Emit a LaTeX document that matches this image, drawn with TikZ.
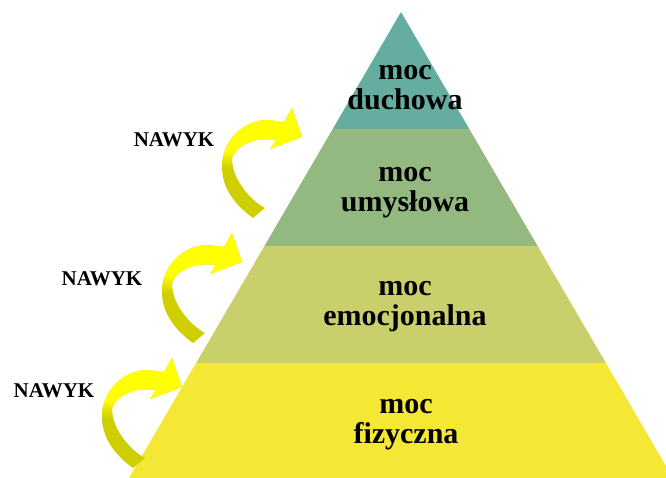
\documentclass[tikz,border=0pt]{standalone}
\usepackage{fontspec}
\setmainfont{Liberation Serif}

\definecolor{duchowacol}{RGB}{101,173,160}
\definecolor{umyslowacol}{RGB}{147,185,128}
\definecolor{emocjcol}{RGB}{201,207,106}
\definecolor{fizycol}{RGB}{245,232,52}
\definecolor{nawykbright}{RGB}{255,255,0}
\definecolor{nawykdark}{RGB}{206,206,0}

% outline of one curved arrow (the top one)
\newcommand{\nawykpath}{(253,218) .. controls (235,205) and (222,188) .. (222,167)
  .. controls (222,139) and (245,120) .. (268,120) -- (284,122) -- (292,108)
  -- (302,137) -- (270,149) -- (276,140)
  .. controls (258,137) and (238,143) .. (232,158)
  .. controls (231,176) and (248,199) .. (265,208) -- cycle}

\begin{document}
\begin{tikzpicture}[
        x=1pt, y=-1pt,
        declare function={
            % half width of the pyramid at height y
            hw(\y) = 0.5837*(\y-12);
        },
        tiertext/.style={font=\fontsize{30}{30}\selectfont\bfseries, align=center, anchor=base},
        nawyktext/.style={font=\fontsize{21}{21}\selectfont\bfseries}
    ]
        \useasboundingbox (0,0) rectangle (666,478);

        % Pyramid tiers
        \begin{scope}
            \clip (0,0) rectangle (666,478);
            \foreach \ya/\yb/\col in {12/129/duchowacol, 129/246/umyslowacol, 246/363/emocjcol, 363/478/fizycol}
                \fill[\col] ({401-hw(\ya)},\ya) -- ({401+hw(\ya)},\ya) -- ({401+hw(\yb)},\yb) -- ({401-hw(\yb)},\yb) -- cycle;
        \end{scope}

        % Curved arrows
        \foreach \dx/\dy in {0/0, -60/125, -120/250}{
            \begin{scope}[shift={(\dx,\dy)}]
                \clip \nawykpath;
                \fill[nawykdark] (215,100) rectangle (310,225);
                \shade[top color=nawykbright, bottom color=nawykdark] (215,150) rectangle (310,168);
                \fill[nawykbright] (215,100) rectangle (310,150);
            \end{scope}
        }

        % Tier labels
        \node[tiertext] (duchowa) at (405,110) {moc\\duchowa};
        \node[tiertext] (umyslowa) at (405,212) {moc\\umysłowa};
        \node[tiertext] (emocjonalna) at (405,325) {moc\\emocjonalna};
        \node[tiertext] (fizyczna) at (406,443) {moc\\fizyczna};

        % Habit labels
        \node[nawyktext] (nawyk1) at (174,140) {NAWYK};
        \node[nawyktext] (nawyk2) at (102,279) {NAWYK};
        \node[nawyktext] (nawyk3) at (54,391) {NAWYK};

    \end{tikzpicture}
\end{document}
